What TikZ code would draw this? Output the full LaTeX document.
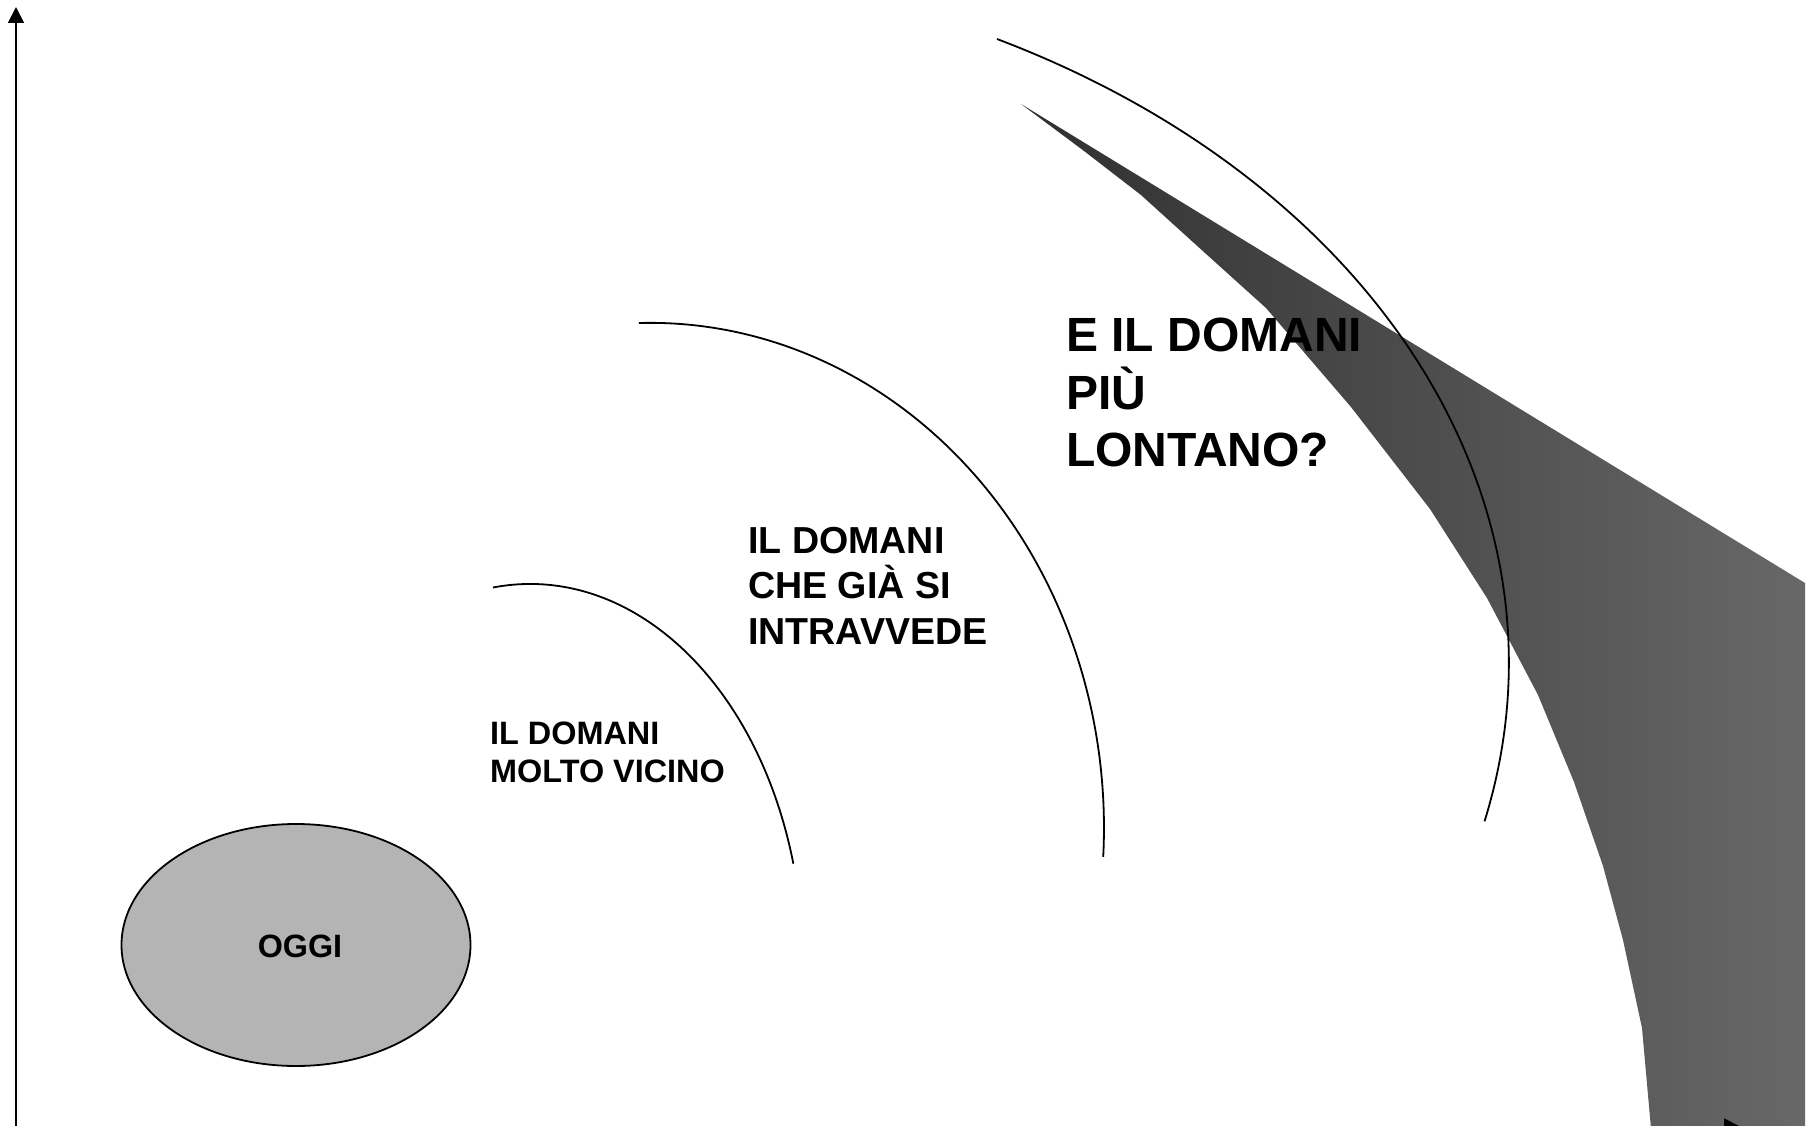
\documentclass[tikz,border=0pt]{standalone}
\usepackage{fontspec}
\setmainfont{Liberation Sans}
\usepackage{tikz}
\usetikzlibrary{arrows.meta,shapes.geometric}
\definecolor{cnow}{RGB}{180,180,180}
\definecolor{cdark}{RGB}{48,48,48}
\definecolor{clight}{RGB}{104,104,104}

\begin{document}
\begin{tikzpicture}[
  x=1pt,y=-1pt,
  % one unit = one pixel of the slide, y runs downwards
  horizon/.style={line width=1.8pt},
  axis/.style={line width=1.8pt,-{Triangle[width=16pt,length=16pt]}},
  nowbox/.style={ellipse,draw,line width=1.8pt,fill=cnow,minimum width=349pt,minimum height=242pt,inner sep=0pt},
  lab/.style={align=left,anchor=north west,inner sep=0pt},
]
\clip (0,0) rectangle (1809,1126);

% =========== the far future: a shaded wedge =================================
\shade[left color=cdark,right color=clight]
  (1021,104) -- (1084,151) -- (1141,195) -- (1205,253) -- (1266,308)
  -- (1351,407) -- (1430,509) -- (1487,598) -- (1538,695) -- (1574,782)
  -- (1603,866) -- (1623,940) -- (1642,1028) -- (1652,1140) -- (1805,1140)
  -- (1805,583) -- cycle;

% =========== three horizons ================================================
\draw[horizon] (493,587.5) arc[start angle=-97.8,end angle=-15.3,x radius=273,y radius=380];
\draw[horizon] (638.9,323) arc[start angle=-91.4,end angle=3.3,x radius=454,y radius=505];
\draw[horizon] (997,39) arc[start angle=-63.2,end angle=13.1,x radius=932,y radius=699];

% =========== labels ========================================================
\node[nowbox] (today) at (296,945) {};
\node[font=\fontsize{32.3}{38}\selectfont\bfseries] (todaylab) at (300,946) {OGGI};
\node[lab,font=\fontsize{32.4}{38}\selectfont\bfseries] (near) at (490,722)
  {IL DOMANI\\MOLTO VICINO};
\node[lab,font=\fontsize{37.6}{45.3}\selectfont\bfseries] (seen) at (748,527)
  {IL DOMANI\\CHE GIÀ SI\\INTRAVVEDE};
\node[lab,font=\fontsize{48}{57.5}\selectfont\bfseries] (far) at (1066,318)
  {E IL DOMANI\\PIÙ\\LONTANO?};

% =========== axes ==========================================================
\coordinate (origin) at (16,1126.5);
\coordinate (ytop) at (16,7);
\coordinate (xend) at (1740,1126.5);
\draw[axis] (origin) -- (ytop);
\draw[axis] (origin) -- (xend);

\end{tikzpicture}
\end{document}
